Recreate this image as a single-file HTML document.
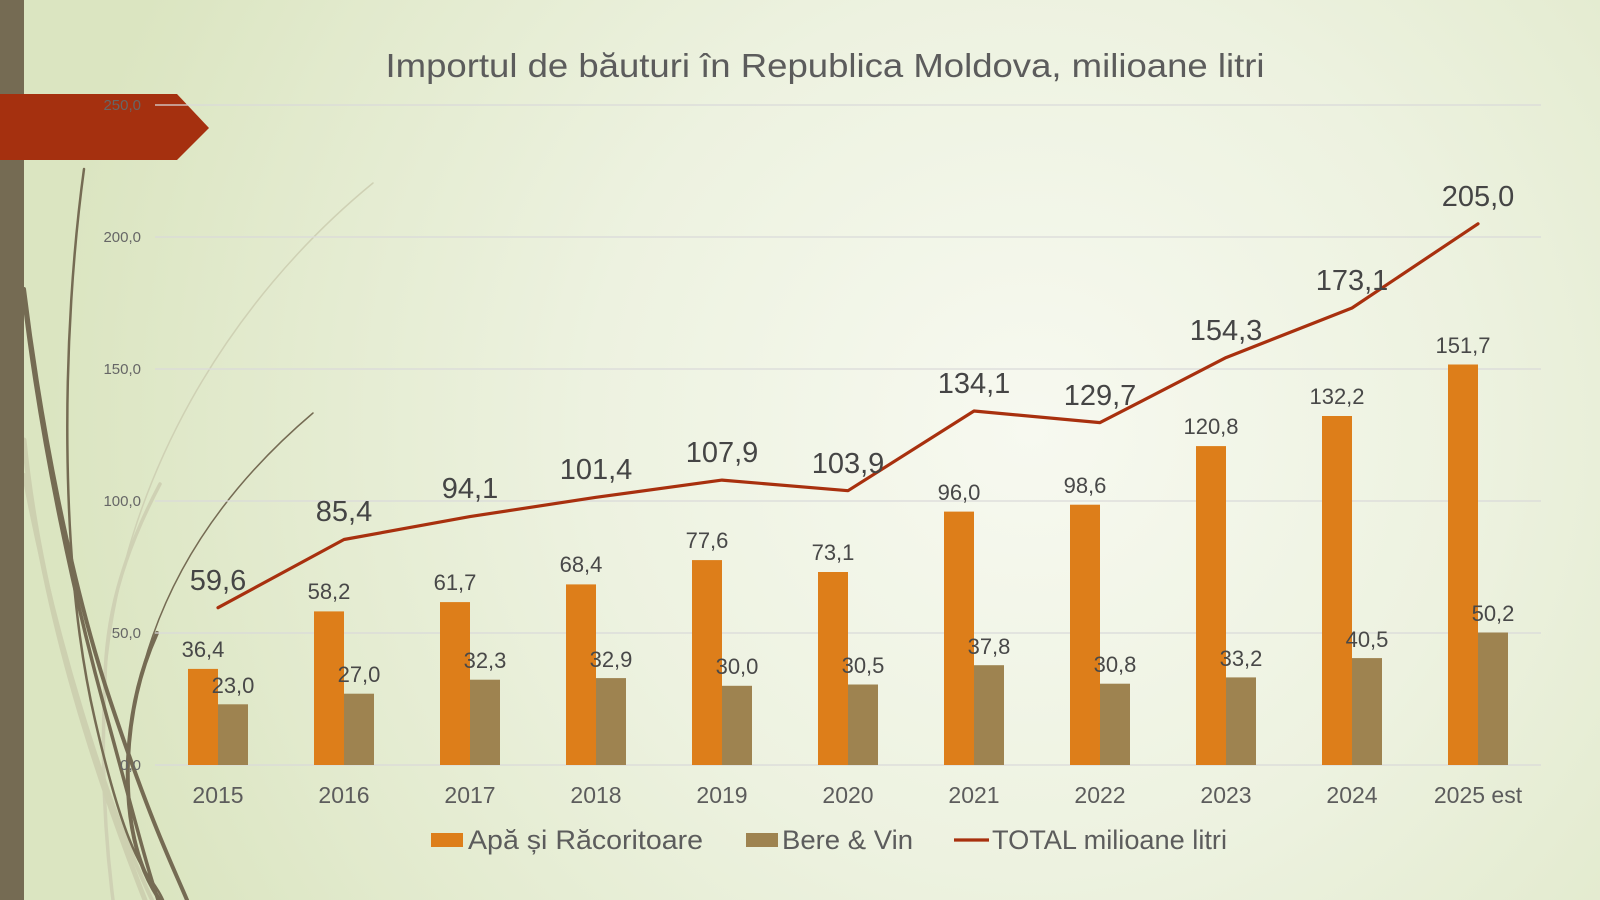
<!DOCTYPE html>
<html>
<head>
<meta charset="utf-8">
<style>
  html,body{margin:0;padding:0;width:1600px;height:900px;overflow:hidden;}
  svg{display:block;}
  text{font-family:"Liberation Sans", sans-serif;}
</style>
</head>
<body>
<svg width="1600" height="900" viewBox="0 0 1600 900" xmlns="http://www.w3.org/2000/svg">
  <defs>
    <radialGradient id="bg" cx="1030" cy="430" r="980" gradientUnits="userSpaceOnUse">
      <stop offset="0" stop-color="#f7f9f0"/>
      <stop offset="0.45" stop-color="#edf2e0"/>
      <stop offset="0.8" stop-color="#e2eacd"/>
      <stop offset="1" stop-color="#dbe5c1"/>
    </radialGradient>
  </defs>
  <rect x="0" y="0" width="1600" height="900" fill="url(#bg)"/>

  <!-- decorative wisps -->
  <g fill="none" stroke-linecap="round">
    <path d="M373 183 C 230 300, 120 480, 105 680 C 100 780, 108 860, 113 900" stroke="#cfd1b4" stroke-width="1.5"/>
    <path d="M160 484 C 120 560, 106 620, 105 680 C 100 780, 108 860, 113 900" stroke="#cfd1b4" stroke-width="3.5"/>
    <path d="M24 440 C 40 600, 90 760, 145 900" stroke="#cdd0b0" stroke-width="5"/>
    <path d="M24 475 C 55 640, 105 800, 152 900" stroke="#cdd0b0" stroke-width="4"/>
    <path d="M84 169 C 62 330, 58 560, 95 720 S 150 870, 163 900" stroke="#756b53" stroke-width="2.5"/>
    <path d="M24 289 C 40 420, 70 580, 110 700 S 170 860, 187 900" stroke="#756b53" stroke-width="4"/>
    <path d="M24 300 C 42 450, 75 600, 105 710 S 145 860, 158 900" stroke="#756b53" stroke-width="3.5"/>
    <path d="M313 413 Q 140 560 128 760 Q 125 850 160 900" stroke="#756b53" stroke-width="1.5"/>
    <path d="M157 633 Q 131 690 128 760 Q 125 850 160 900" stroke="#756b53" stroke-width="4"/>
  </g>

  <rect x="0" y="0" width="24" height="900" fill="#756b53"/>
  <polygon points="0,94 177,94 209,128 177,160 0,160" fill="#a5300f"/>

  <text x="825" y="77" font-size="33" fill="#5c5c5c" text-anchor="middle" textLength="879" lengthAdjust="spacingAndGlyphs">Importul de băuturi în Republica Moldova, milioane litri</text>

  <g stroke="#d9d9d9" stroke-width="1.2">
    <line x1="155" y1="105" x2="1541" y2="105"/>
    <line x1="155" y1="237" x2="1541" y2="237"/>
    <line x1="155" y1="369" x2="1541" y2="369"/>
    <line x1="155" y1="501" x2="1541" y2="501"/>
    <line x1="155" y1="633" x2="1541" y2="633"/>
    <line x1="155" y1="765" x2="1541" y2="765"/>
  </g>

  <g font-size="15" fill="#666666" text-anchor="end">
    <text x="141" y="110">250,0</text>
    <text x="141" y="242">200,0</text>
    <text x="141" y="374">150,0</text>
    <text x="141" y="506">100,0</text>
    <text x="141" y="638">50,0</text>
    <text x="141" y="770">0,0</text>
  </g>

  <g fill="#dd7e1a">
    <rect x="188" y="668.9" width="30" height="96.1"/>
    <rect x="314" y="611.4" width="30" height="153.6"/>
    <rect x="440" y="602.1" width="30" height="162.9"/>
    <rect x="566" y="584.4" width="30" height="180.6"/>
    <rect x="692" y="560.1" width="30" height="204.9"/>
    <rect x="818" y="572.0" width="30" height="193.0"/>
    <rect x="944" y="511.6" width="30" height="253.4"/>
    <rect x="1070" y="504.7" width="30" height="260.3"/>
    <rect x="1196" y="446.1" width="30" height="318.9"/>
    <rect x="1322" y="416.0" width="30" height="349.0"/>
    <rect x="1448" y="364.5" width="30" height="400.5"/>
  </g>
  <g fill="#9e8350">
    <rect x="218" y="704.3" width="30" height="60.7"/>
    <rect x="344" y="693.7" width="30" height="71.3"/>
    <rect x="470" y="679.7" width="30" height="85.3"/>
    <rect x="596" y="678.1" width="30" height="86.9"/>
    <rect x="722" y="685.8" width="30" height="79.2"/>
    <rect x="848" y="684.5" width="30" height="80.5"/>
    <rect x="974" y="665.2" width="30" height="99.8"/>
    <rect x="1100" y="683.7" width="30" height="81.3"/>
    <rect x="1226" y="677.4" width="30" height="87.6"/>
    <rect x="1352" y="658.1" width="30" height="106.9"/>
    <rect x="1478" y="632.5" width="30" height="132.5"/>
  </g>

  <polyline fill="none" stroke="#a8300e" stroke-width="3.2" stroke-linejoin="round" stroke-linecap="round"
    points="218,607.7 344,539.5 470,516.6 596,497.3 722,480.1 848,490.7 974,411.0 1100,422.6 1226,357.6 1352,308.0 1478,223.8"/>

  <g font-size="22" fill="#484848" text-anchor="middle">
    <text x="203" y="657">36,4</text>
    <text x="329" y="599">58,2</text>
    <text x="455" y="590">61,7</text>
    <text x="581" y="572">68,4</text>
    <text x="707" y="548">77,6</text>
    <text x="833" y="560">73,1</text>
    <text x="959" y="500">96,0</text>
    <text x="1085" y="493">98,6</text>
    <text x="1211" y="434">120,8</text>
    <text x="1337" y="404">132,2</text>
    <text x="1463" y="353">151,7</text>
  </g>
  <g font-size="22" fill="#484848" text-anchor="middle">
    <text x="233" y="693">23,0</text>
    <text x="359" y="682">27,0</text>
    <text x="485" y="668">32,3</text>
    <text x="611" y="667">32,9</text>
    <text x="737" y="674">30,0</text>
    <text x="863" y="673">30,5</text>
    <text x="989" y="654">37,8</text>
    <text x="1115" y="672">30,8</text>
    <text x="1241" y="666">33,2</text>
    <text x="1367" y="647">40,5</text>
    <text x="1493" y="621">50,2</text>
  </g>
  <g font-size="29" fill="#454545" text-anchor="middle">
    <text x="218" y="590">59,6</text>
    <text x="344" y="521">85,4</text>
    <text x="470" y="498">94,1</text>
    <text x="596" y="479">101,4</text>
    <text x="722" y="462">107,9</text>
    <text x="848" y="473">103,9</text>
    <text x="974" y="393">134,1</text>
    <text x="1100" y="405">129,7</text>
    <text x="1226" y="340">154,3</text>
    <text x="1352" y="290">173,1</text>
    <text x="1478" y="206">205,0</text>
  </g>

  <g font-size="23" fill="#5c5c5c" text-anchor="middle">
    <text x="218" y="803">2015</text>
    <text x="344" y="803">2016</text>
    <text x="470" y="803">2017</text>
    <text x="596" y="803">2018</text>
    <text x="722" y="803">2019</text>
    <text x="848" y="803">2020</text>
    <text x="974" y="803">2021</text>
    <text x="1100" y="803">2022</text>
    <text x="1226" y="803">2023</text>
    <text x="1352" y="803">2024</text>
    <text x="1478" y="803">2025 est</text>
  </g>

  <rect x="431" y="833" width="32" height="14" fill="#dd7e1a"/>
  <text x="468" y="849" font-size="27" fill="#5c5c5c" textLength="235" lengthAdjust="spacingAndGlyphs">Apă și Răcoritoare</text>
  <rect x="746" y="833" width="32" height="14" fill="#9e8350"/>
  <text x="782" y="849" font-size="27" fill="#5c5c5c" textLength="131" lengthAdjust="spacingAndGlyphs">Bere &amp; Vin</text>
  <line x1="954" y1="840" x2="989" y2="840" stroke="#a8300e" stroke-width="3.2"/>
  <text x="992" y="849" font-size="27" fill="#5c5c5c" textLength="235" lengthAdjust="spacingAndGlyphs">TOTAL milioane litri</text>
</svg>
</body>
</html>
